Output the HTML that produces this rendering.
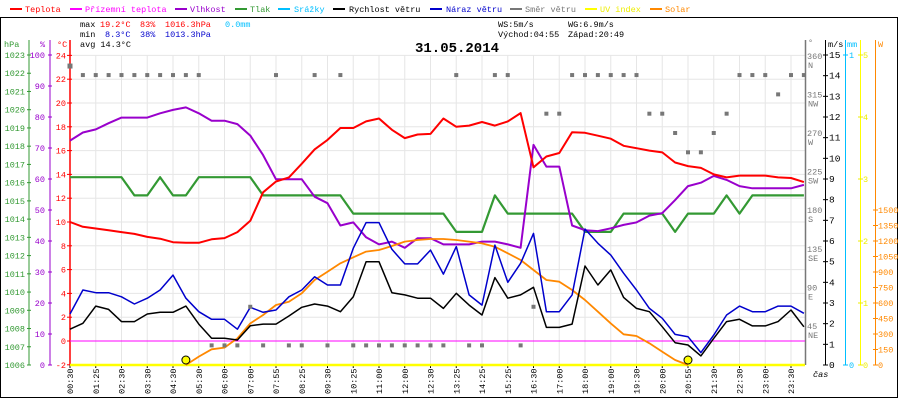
<!DOCTYPE html>
<html><head><meta charset="utf-8"><style>
html,body{margin:0;padding:0;background:#fff;}
svg{display:block;font-family:"Liberation Mono",monospace;font-size:8.5px;}
</style></head><body>
<svg id="chart" width="900" height="400" viewBox="0 0 900 400">
<rect x="0.5" y="17.5" width="897" height="380" fill="none" stroke="#000"/>
<g id="legend"></g>
<g>
<text x="80" y="27" fill="#000">max</text><text x="100" y="27" fill="#f00">19.2°C</text><text x="140" y="27" fill="#f00">83%</text><text x="165" y="27" fill="#f00">1016.3hPa</text><text x="225" y="27" fill="#00bfff">0.0mm</text>
<text x="80" y="37" fill="#000">min</text><text x="105" y="37" fill="#00c">8.3°C</text><text x="140" y="37" fill="#00c">38%</text><text x="165" y="37" fill="#00c">1013.3hPa</text>
<text x="80" y="47" fill="#000">avg 14.3°C</text>
<text x="498" y="27" fill="#000">WS:5m/s</text><text x="568" y="27" fill="#000">WG:6.9m/s</text>
<text x="498" y="37" fill="#000">Východ:04:55</text><text x="568" y="37" fill="#000">Západ:20:49</text>
</g>
<text x="457" y="52" text-anchor="middle" font-weight="bold" font-size="14">31.05.2014</text>
<g id="grid"></g>
<g id="axes"></g>
<g id="series"></g>
</svg>
<script>
const timeLabels=["00:30","01:25","02:30","03:30","04:30","05:30","06:00","07:00","07:55","08:25","09:30","10:25","11:00","12:00","12:30","13:25","14:25","15:25","16:30","17:00","18:00","19:00","19:30","20:00","20:55","21:30","22:30","23:00","23:30"];
const temperature=[10.0,9.6,9.45,9.3,9.15,9.0,8.75,8.6,8.3,8.25,8.25,8.55,8.65,9.15,10.1,12.5,13.4,13.75,14.9,16.1,16.9,17.9,17.9,18.45,18.7,17.75,17.05,17.35,17.4,18.7,18.0,18.1,18.4,18.1,18.45,19.15,14.6,15.5,15.8,17.55,17.5,17.25,17.0,16.4,16.2,16.0,15.85,15.0,14.7,14.55,14.0,13.75,13.9,13.9,13.9,13.75,13.7,13.35];
const humidity=[72.4,75,76,78,79.8,79.8,79.8,81.2,82.3,83.1,81.2,78.8,78.8,77.7,74,67.7,59.9,59.9,59.9,54.3,52.2,45,46,41.2,38.9,39.8,37.8,40.9,40.9,38.9,38.9,38.9,39.8,39.8,38.9,37.8,71,64,64,45,43.5,43.2,44.1,45.2,46,48.2,49,53.2,57.7,58.8,61,59.7,57.7,57,57,57,57,58.1];
const pressure=[1016.3,1016.3,1016.3,1016.3,1016.3,1015.3,1015.3,1016.3,1015.3,1015.3,1016.3,1016.3,1016.3,1016.3,1016.3,1015.3,1015.3,1015.3,1015.3,1015.3,1015.3,1015.3,1014.3,1014.3,1014.3,1014.3,1014.3,1014.3,1014.3,1014.3,1013.3,1013.3,1013.3,1015.3,1014.3,1014.3,1014.3,1014.3,1014.3,1014.3,1013.3,1013.3,1013.3,1014.3,1014.3,1014.3,1014.3,1013.3,1014.3,1014.3,1014.3,1015.3,1014.3,1015.3,1015.3,1015.3,1015.3,1015.3];
const windSpeed=[1.73,2.02,2.85,2.69,2.1,2.1,2.47,2.55,2.55,2.85,1.98,1.29,1.29,1.21,1.9,1.98,1.98,2.37,2.79,2.95,2.85,2.58,3.3,5.0,5.0,3.5,3.39,3.23,3.23,2.74,3.47,2.9,2.42,4.23,3.23,3.39,3.76,1.82,1.82,1.98,4.79,3.87,4.6,3.27,2.74,2.58,1.85,1.08,0.97,0.44,1.29,2.1,2.21,1.89,1.89,2.1,2.66,1.85];
const windGust=[2.47,3.63,3.5,3.5,3.3,2.95,3.23,3.63,4.35,3.23,2.58,2.21,2.21,1.73,2.79,2.55,2.66,3.3,3.63,4.27,3.87,3.87,5.65,6.89,6.89,5.6,4.89,4.89,5.56,4.4,5.73,3.39,2.9,5.8,4.0,4.92,6.37,2.58,2.58,3.39,6.58,5.89,5.32,4.44,3.63,2.74,2.26,1.48,1.37,0.6,1.45,2.42,2.85,2.58,2.58,2.85,2.85,2.5];
const solar=[null,null,null,null,null,null,null,null,null,0,81,152,168,258,403,484,581,613,694,823,903,984,1042,1097,1113,1152,1194,1210,1219,1219,1210,1194,1177,1145,1081,1016,919,823,806,726,629,516,403,297,281,210,129,48,0,null,null,null,null,null,null,null,null,null];
const windDir=[348,337.5,337.5,337.5,337.5,337.5,337.5,337.5,337.5,337.5,337.5,22.5,22.5,22.5,67.5,22.5,337.5,22.5,22.5,337.5,22.5,337.5,22.5,22.5,22.5,22.5,22.5,22.5,22.5,22.5,337.5,22.5,22.5,337.5,337.5,22.5,67.5,292.5,292.5,337.5,337.5,337.5,337.5,337.5,337.5,292.5,292.5,270,247.5,247.5,270,292.5,337.5,337.5,337.5,315,337.5,337.5];
const apparentTemp=0;
const sunEventIdx=[9,48];

const NS="http://www.w3.org/2000/svg";
const X0=70,SLOT=25.75,HALF=SLOT/2,TOP=55,BOT=365;
const xi=i=>X0+i*HALF;
const xSlot=k=>X0+k*SLOT;
const yT=v=>341-v*11.9;
const yH=v=>BOT-v*3.1;
const yP=v=>BOT-(v-1006)*(310/17);
const yW=v=>BOT-v*(310/15);
const yS=v=>BOT-v*(155/1500);
const yD=v=>364.7-v*(310/360*0.9966);
function el(tag,attrs,parent,txt){const e=document.createElementNS(NS,tag);for(const k in attrs)e.setAttribute(k,attrs[k]);if(txt!==undefined)e.textContent=txt;parent.appendChild(e);return e;}
const grid=document.getElementById('grid'),axes=document.getElementById('axes'),series=document.getElementById('series'),legend=document.getElementById('legend');

const legItems=[["Teplota","#f00",10,25],["Přízemní teplota","#f0f",70,85],["Vlhkost","#90c",175,190],["Tlak","#393",235,250],["Srážky","#00bfff",278,294],["Rychlost větru","#000",333,349],["Náraz větru","#00c",430,446],["Směr větru","#777",510,525],["UV index","#ff0",585,600],["Solar","#f80",650,665]];
legItems.forEach(it=>{const g=el('g',{},legend);


el('line',{x1:it[2],x2:it[2]+12,y1:9,y2:9,stroke:it[1],'stroke-width':2},g);
el('text',{x:it[3],y:12,fill:it[1]==="#ff0"?"#ee0":it[1]},g,it[0]);});

for(let t=-2;t<=24;t+=2){el('line',{x1:X0,x2:805,y1:yT(t),y2:yT(t),stroke:'#e6e6e6'},grid);}
timeLabels.forEach((lab,k)=>{const x=xSlot(k);
el('line',{x1:x,x2:x,y1:TOP,y2:BOT,stroke:'#e6e6e6'},grid);
el('line',{x1:x,x2:x,y1:BOT,y2:BOT+3,stroke:'#000'},grid);
const t=el('text',{x:0,y:0,transform:`translate(${x+3},394) rotate(-90)`},grid,lab);

});
el('text',{x:813,y:377,'font-style':'italic'},axes,'čas');

el('line',{x1:29,x2:29,y1:40,y2:BOT,stroke:'#393'},axes);
el('text',{x:4,y:47,fill:'#393'},axes,'hPa');
for(let p=1006;p<=1023;p++){const y=yP(p);el('line',{x1:27,x2:31,y1:y,y2:y,stroke:'#393'},axes);el('text',{x:25,y:y+3,fill:'#393','text-anchor':'end'},axes,String(p));}
el('line',{x1:50,x2:50,y1:40,y2:BOT,stroke:'#90c'},axes);
el('text',{x:40,y:47,fill:'#90c'},axes,'%');
for(let h=0;h<=100;h+=10){const y=yH(h);el('line',{x1:48,x2:52,y1:y,y2:y,stroke:'#90c'},axes);el('text',{x:45,y:y+3,fill:'#90c','text-anchor':'end'},axes,String(h));}
el('line',{x1:70,x2:70,y1:40,y2:BOT,stroke:'#f00','stroke-width':1.5},axes);
el('text',{x:57,y:47,fill:'#f00'},axes,'°C');
for(let t=-2;t<=24;t+=2){const y=yT(t);el('line',{x1:67,x2:72,y1:y,y2:y,stroke:'#f00'},axes);el('text',{x:66,y:y+3,fill:'#f00','text-anchor':'end'},axes,String(t));}

el('line',{x1:805.5,x2:805.5,y1:40,y2:BOT,stroke:'#777','stroke-width':1.5},axes);
el('text',{x:808,y:45,fill:'#777'},axes,'°');
const dirs=[[45,'NE'],[90,'E'],[135,'SE'],[180,'S'],[225,'SW'],[270,'W'],[315,'NW'],[360,'N']];
dirs.forEach(d=>{const y=yD(d[0]);el('text',{x:807,y:y+3,fill:'#777'},axes,String(d[0]));el('text',{x:808,y:y+12,fill:'#777'},axes,d[1]);});
el('line',{x1:825.5,x2:825.5,y1:40,y2:BOT,stroke:'#000'},axes);
el('text',{x:828,y:47},axes,'m/s');
for(let v=0;v<=15;v++){const y=yW(v);el('line',{x1:823,x2:828,y1:y,y2:y,stroke:'#000'},axes);el('text',{x:829,y:y+3,'font-size':9.5},axes,String(v));}
el('line',{x1:845.5,x2:845.5,y1:40,y2:BOT,stroke:'#00bfff'},axes);
el('text',{x:847,y:47,fill:'#00bfff'},axes,'mm');
[[0,BOT],[1,TOP]].forEach(m=>{el('line',{x1:843,x2:848,y1:m[1],y2:m[1],stroke:'#00bfff'},axes);el('text',{x:849,y:m[1]+3,fill:'#00bfff'},axes,String(m[0]));});
el('line',{x1:860.5,x2:860.5,y1:40,y2:BOT,stroke:'#ff0'},axes);
for(let u=0;u<=5;u++){const y=BOT-u*62;el('line',{x1:858,x2:863,y1:y,y2:y,stroke:'#ee0'},axes);el('text',{x:863,y:y+3,fill:'#ee0'},axes,String(u));}
el('line',{x1:875.5,x2:875.5,y1:40,y2:BOT,stroke:'#f80'},axes);
el('text',{x:878,y:47,fill:'#f80'},axes,'W');
for(let w=0;w<=1500;w+=150){const y=yS(w);el('line',{x1:873,x2:878,y1:y,y2:y,stroke:'#f80'},axes);el('text',{x:878,y:y+3,fill:'#f80'},axes,String(w));}

function poly(arr,yf,color,w,name){let d='',pen=false;arr.forEach((v,i)=>{if(v===null){pen=false;return;}d+=(pen?'L':'M')+xi(i).toFixed(1)+' '+yf(v).toFixed(1)+' ';pen=true;});
const p=el('path',{d:d,fill:'none',stroke:color,'stroke-width':w,'stroke-linejoin':'round'},series);

}
const uv=el('line',{x1:X0,x2:805,y1:BOT,y2:BOT,stroke:'#ff0','stroke-width':2.5},series);


const ap=el('line',{x1:X0,x2:805,y1:yT(apparentTemp),y2:yT(apparentTemp),stroke:'#f0f','stroke-width':1},series);


poly(pressure,yP,'#393',2.2,'pressure-line');
poly(humidity,yH,'#90c',2,'humidity-line');
poly(temperature,yT,'#f00',2,'temperature-line');
poly(solar,yS,'#f80',1.8,'solar-line');
poly(windGust,yW,'#00c',1.5,'wind-gust-line');
poly(windSpeed,yW,'#000',1.5,'wind-speed-line');
windDir.forEach((v,i)=>{const s=i===0?5:4;const r=el('rect',{x:xi(i)-s/2,y:yD(v)-s/2,width:s,height:s,fill:'#777'},series);

});
sunEventIdx.forEach(i=>{const c=el('circle',{cx:xi(i),cy:360,r:4,fill:'#ff0',stroke:'#000','stroke-width':1},series);

});
</script>
</body></html>
